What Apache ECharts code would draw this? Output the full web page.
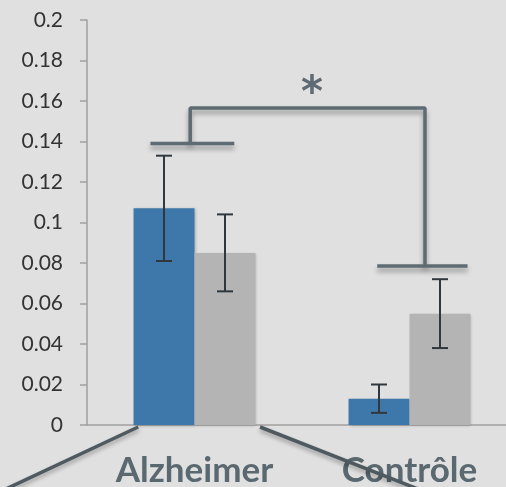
<!DOCTYPE html>
<html><head><meta charset="utf-8">
<script src="https://cdn.jsdelivr.net/npm/echarts/dist/echarts.min.js"></script>
<style>html,body{margin:0;padding:0;background:#e0e0e0;overflow:hidden}#c{width:506px;height:487px}</style>
</head><body><div id="c"></div>
<script>
const categories = ['Alzheimer', 'Contrôle'];
const blueValues = [0.107, 0.013];
const blueErrors = [0.026, 0.007];
const grayValues = [0.085, 0.055];
const grayErrors = [0.019, 0.017];
const yMin = 0, yMax = 0.2, yInterval = 0.02;
// significance bracket, in (category position, value) units
const bracketPath = [[-0.02, 0.139], [-0.02, 0.1565], [1.072, 0.1565], [1.072, 0.0785]];
const bracketLeftCap = [[-0.205, 0.139], [0.185, 0.139]];
const bracketRightCap = [[0.85, 0.0785], [1.27, 0.0785]];
const starPos = [0.547, 0.163];
const starText = '*';

const BLUE = '#3e78aa', GRAY = '#b4b4b4', BRACKET = '#5f6b73', ERR = '#30383d';
const GAP = 0.433;

const chart = echarts.init(document.getElementById('c'));

function errorSeries(values, errors, side, name) {
  return {
    type: 'custom', name: name, xAxisIndex: 0, yAxisIndex: 0, z: 5,
    data: values.map((v, i) => [i, v, errors[i]]),
    renderItem: function (params, api) {
      const ci = api.value(0), v = api.value(1), e = api.value(2);
      const band = api.size([1, 0])[0];
      const barW = band * (1 - GAP) / 2;
      const c = api.coord([ci, v]);
      const x = c[0] + side * barW / 2;
      const top = api.coord([ci, v + e])[1];
      const bot = api.coord([ci, v - e])[1];
      const cap = 8;
      const st = { stroke: ERR, lineWidth: 2 };
      return { type: 'group', children: [
        { type: 'line', shape: { x1: x, y1: top, x2: x, y2: bot }, style: st },
        { type: 'line', shape: { x1: x - cap, y1: top, x2: x + cap, y2: top }, style: st },
        { type: 'line', shape: { x1: x - cap, y1: bot, x2: x + cap, y2: bot }, style: st }
      ]};
    }
  };
}

function bracketLine(data) {
  return {
    type: 'line', xAxisIndex: 1, yAxisIndex: 0, data: data, symbol: 'none', z: 6,
    clip: false, animation: false,
    lineStyle: { color: BRACKET, width: 3.5, shadowColor: 'rgba(0,0,0,0.35)', shadowBlur: 5, shadowOffsetY: 4 }
  };
}

chart.setOption({
  backgroundColor: '#e0e0e0',
  animation: false,
  grid: { left: 87, top: 20, bottom: 62, width: 430, containLabel: false, outerBoundsMode: 'none' },
  xAxis: [{
    type: 'category', data: categories,
    axisLine: { lineStyle: { color: '#a0a0a0', width: 1.5 } },
    axisTick: { length: 9, lineStyle: { color: '#a0a0a0', width: 1.5 } },
    axisLabel: { interval: 0, margin: 28, fontFamily: 'Lato', fontWeight: 'bold', fontSize: 35, color: '#5a6870' }
  }, {
    type: 'value', min: -0.5, max: 1.5, show: false
  }],
  yAxis: {
    type: 'value', min: yMin, max: yMax, interval: yInterval,
    axisLine: { show: true, onZero: false, lineStyle: { color: '#a0a0a0', width: 1.5 } },
    axisTick: { show: true, length: 7, lineStyle: { color: '#a0a0a0', width: 1.5 } },
    splitLine: { show: false },
    axisLabel: { margin: 24, fontFamily: 'Lato', fontSize: 21, color: '#333' }
  },
  series: [
    { type: 'bar', data: blueValues, barGap: '0%', barCategoryGap: (GAP * 100) + '%',
      itemStyle: { color: BLUE, shadowColor: 'rgba(0,0,0,0.25)', shadowBlur: 3, shadowOffsetX: 1, shadowOffsetY: 1 } },
    { type: 'bar', data: grayValues, barGap: '0%', barCategoryGap: (GAP * 100) + '%',
      itemStyle: { color: GRAY, shadowColor: 'rgba(0,0,0,0.25)', shadowBlur: 3, shadowOffsetX: 1, shadowOffsetY: 1 } },
    errorSeries(blueValues, blueErrors, -1, 'errBlue'),
    errorSeries(grayValues, grayErrors, 1, 'errGray'),
    bracketLine(bracketPath),
    bracketLine(bracketLeftCap),
    bracketLine(bracketRightCap),
    { type: 'scatter', xAxisIndex: 1, yAxisIndex: 0, data: [starPos], symbolSize: 1,
      itemStyle: { opacity: 0 },
      label: { show: true, position: 'inside', formatter: starText, fontFamily: 'DejaVu Sans', fontWeight: 'bold',
        fontSize: 42, color: BRACKET, opacity: 1 } }
  ]
});

// decorative callout lines from the Alzheimer bar group toward the bottom corners
const axisY = chart.convertToPixel({ yAxisIndex: 0 }, 0) + 2;
const leftX = chart.convertToPixel({ xAxisIndex: 1 }, -0.262);
const rightX = chart.convertToPixel({ xAxisIndex: 1 }, 0.305);
const calloutStyle = { stroke: '#4f5a60', lineWidth: 3.5, shadowColor: 'rgba(0,0,0,0.3)', shadowBlur: 4, shadowOffsetY: 3 };
chart.setOption({
  graphic: [
    { type: 'line', z: 100, shape: { x1: leftX, y1: axisY, x2: leftX - 160, y2: axisY + 75 }, style: calloutStyle },
    { type: 'line', z: 100, shape: { x1: rightX, y1: axisY, x2: rightX + 191, y2: axisY + 75 }, style: calloutStyle }
  ]
});
</script></body></html>
